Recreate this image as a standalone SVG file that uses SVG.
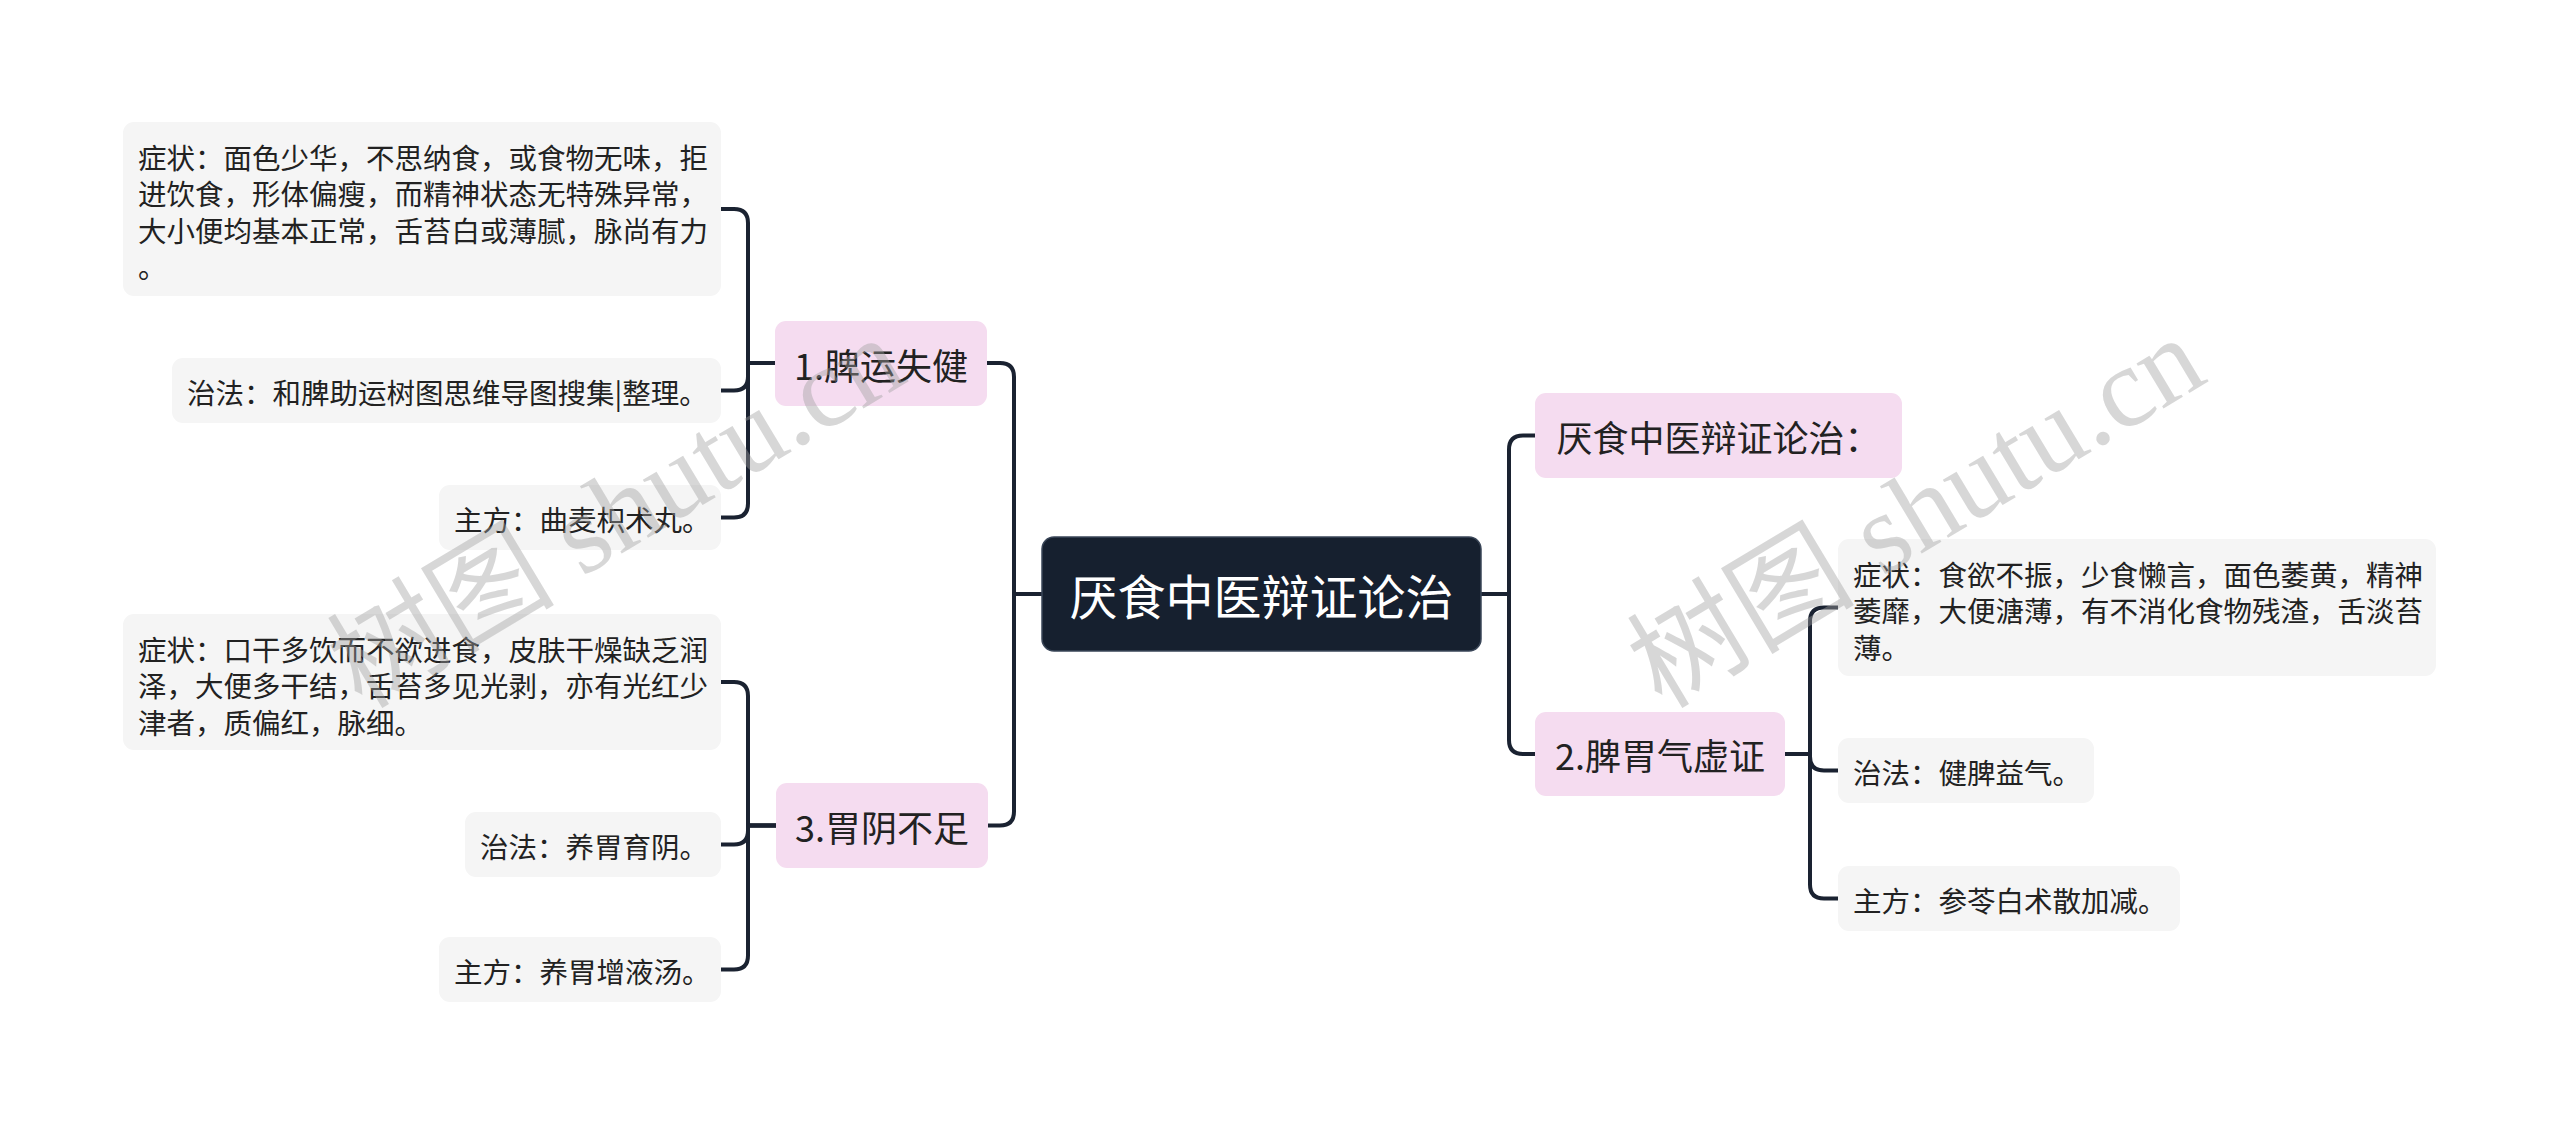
<svg xmlns="http://www.w3.org/2000/svg" width="2560" height="1125" viewBox="0 0 2560 1125">
<style>
text{font-family:"Noto Sans CJK SC","Noto Sans",sans-serif;dominant-baseline:central;}
.root rect{fill:#16202f;stroke:#3a4658;stroke-width:1.5;}
.root text{fill:#ffffff;font-size:48px;text-anchor:middle;}
.l1 rect{fill:#f5dcf0;}
.l1 text{fill:#222222;font-size:36px;text-anchor:middle;}
.leaf rect{fill:#f5f5f5;}
.leaf text{fill:#222222;font-size:28.5px;}
.conn path{fill:none;stroke:#1a2231;stroke-width:4;stroke-linecap:round;stroke-linejoin:round;}
.wm{font-family:"Liberation Serif","Noto Sans CJK SC",serif;font-size:114px;fill:#a0a0a0;fill-opacity:0.42;dominant-baseline:auto;text-anchor:middle;}
</style>
<rect x="0" y="0" width="2560" height="1125" fill="#ffffff"/>
<g class="conn" id="connectors">
<path d="M1042,594 H1014 V377 Q1014,363 1000,363 H987"/>
<path d="M1042,594 H1014 V811.5 Q1014,825.5 1000,825.5 H988"/>
<path d="M1481,594 H1509 V449.5 Q1509,435.5 1523,435.5 H1535"/>
<path d="M1481,594 H1509 V740 Q1509,754 1523,754 H1535"/>
<path d="M775,363 H748 V223 Q748,209 734,209 H721"/>
<path d="M775,363 H748 V376.5 Q748,390.5 734,390.5 H721"/>
<path d="M775,363 H748 V503.5 Q748,517.5 734,517.5 H721"/>
<path d="M776,825.5 H748 V696 Q748,682 734,682 H721"/>
<path d="M776,825.5 H748 V830.5 Q748,844.5 734,844.5 H721"/>
<path d="M776,825.5 H748 V955.5 Q748,969.5 734,969.5 H721"/>
<path d="M1785,754 H1810 V621.5 Q1810,607.5 1824,607.5 H1838"/>
<path d="M1785,754 H1810 V756.5 Q1810,770.5 1824,770.5 H1838"/>
<path d="M1785,754 H1810 V884.5 Q1810,898.5 1824,898.5 H1838"/>
</g>
<g class="root" id="root">
<rect x="1042" y="537" width="439" height="114" rx="12"/>
<text x="1261.5" y="594">厌食中医辩证论治</text>
</g>
<g class="l1" id="n1">
<rect x="775" y="321" width="212" height="85" rx="11"/>
<text x="881" y="363.5">1.脾运失健</text>
</g>
<g class="l1" id="n3">
<rect x="776" y="783" width="212" height="85" rx="11"/>
<text x="882" y="825.5">3.胃阴不足</text>
</g>
<g class="l1" id="n0">
<rect x="1535" y="393" width="367" height="85" rx="11"/>
<text x="1718.5" y="435.5">厌食中医辩证论治：</text>
</g>
<g class="l1" id="n2">
<rect x="1535" y="712" width="250" height="84" rx="11"/>
<text x="1660" y="754">2.脾胃气虚证</text>
</g>
<g class="leaf" id="n1a">
<rect x="123" y="122" width="598" height="174" rx="11"/>
<text x="138" y="156">症状：面色少华，不思纳食，或食物无味，拒</text>
<text x="138" y="192.5">进饮食，形体偏瘦，而精神状态无特殊异常，</text>
<text x="138" y="229">大小便均基本正常，舌苔白或薄腻，脉尚有力</text>
<text x="138" y="265.5">。</text>
</g>
<g class="leaf" id="n1b">
<rect x="172" y="358" width="549" height="65" rx="11"/>
<text x="187" y="391.5">治法：和脾助运树图思维导图搜集|整理。</text>
</g>
<g class="leaf" id="n1c">
<rect x="439" y="485" width="282" height="65" rx="11"/>
<text x="454" y="518.5">主方：曲麦枳术丸。</text>
</g>
<g class="leaf" id="n3a">
<rect x="123" y="614" width="598" height="136" rx="11"/>
<text x="138" y="648">症状：口干多饮而不欲进食，皮肤干燥缺乏润</text>
<text x="138" y="684.5">泽，大便多干结，舌苔多见光剥，亦有光红少</text>
<text x="138" y="721">津者，质偏红，脉细。</text>
</g>
<g class="leaf" id="n3b">
<rect x="465" y="812" width="256" height="65" rx="11"/>
<text x="480" y="845.5">治法：养胃育阴。</text>
</g>
<g class="leaf" id="n3c">
<rect x="439" y="937" width="282" height="65" rx="11"/>
<text x="454" y="970.5">主方：养胃增液汤。</text>
</g>
<g class="leaf" id="n2a">
<rect x="1838" y="539" width="598" height="137" rx="11"/>
<text x="1853" y="573">症状：食欲不振，少食懒言，面色萎黄，精神</text>
<text x="1853" y="609.5">萎靡，大便溏薄，有不消化食物残渣，舌淡苔</text>
<text x="1853" y="646">薄。</text>
</g>
<g class="leaf" id="n2b">
<rect x="1838" y="738" width="256" height="65" rx="11"/>
<text x="1853" y="771.5">治法：健脾益气。</text>
</g>
<g class="leaf" id="n2c">
<rect x="1838" y="866" width="342" height="65" rx="11"/>
<text x="1853" y="899.5">主方：参苓白术散加减。</text>
</g>
<g id="watermarks">
<text class="wm" transform="translate(636,545) rotate(-31)">树图 shutu.cn</text>
<text class="wm" transform="translate(1936,545) rotate(-31)">树图 shutu.cn</text>
</g>
</svg>
